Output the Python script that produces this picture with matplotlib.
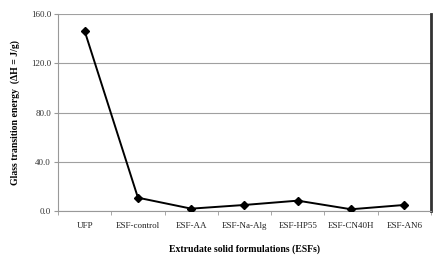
import numpy as np
import matplotlib
matplotlib.use("Agg")
import matplotlib.pyplot as plt

categories = ["UFP", "ESF-control", "ESF-AA", "ESF-Na-Alg", "ESF-HP55", "ESF-CN40H", "ESF-AN6"]
energy = [146.2, 10.8, 1.9, 4.9, 8.4, 1.4, 4.9]
yticks = [0.0, 40.0, 80.0, 120.0, 160.0]

plt.rcParams['font.family'] = ['Liberation Serif', 'DejaVu Serif']

fig = plt.figure(figsize=(4.48, 2.6), dpi=100)
ax = fig.add_axes([0.1295, 0.1885, 0.8325, 0.7575])

x = np.arange(len(categories))
ax.plot(x, energy, color="black", lw=1.4, marker="D", ms=4.2, zorder=3)

ax.set_xlim(-0.5, len(categories) - 0.5)
ax.set_ylim(0, 160)
ax.set_yticks(yticks)
ax.set_yticklabels([f"{v:.1f}" for v in yticks], fontsize=6.5, color="#333333")
ax.yaxis.grid(True, color="#a0a0a0", lw=0.8)
ax.set_axisbelow(True)

ax.set_xticks(x)
ax.set_xticklabels(categories, fontsize=6.5, color="#222222")
ax.set_xticks(np.arange(len(categories) + 1) - 0.5, minor=True)
ax.tick_params(axis="x", which="major", length=0, pad=8)
ax.tick_params(axis="x", which="minor", length=3, color="#999999")
ax.tick_params(axis="y", length=3, color="#999999", pad=2)

for s in ["left", "bottom"]:
    ax.spines[s].set_color("#999999")
    ax.spines[s].set_linewidth(0.8)
ax.spines["top"].set_visible(False)
ax.spines["right"].set_color("#333333")
ax.spines["right"].set_linewidth(2)

ax.set_xlabel("Extrudate solid formulations (ESFs)", fontsize=7, fontweight="bold", labelpad=10)
ax.set_ylabel("Glass transition energy  (\u0394H = J/g)", fontsize=7, fontweight="bold", labelpad=8)

fig.savefig("out.png", dpi=100)
